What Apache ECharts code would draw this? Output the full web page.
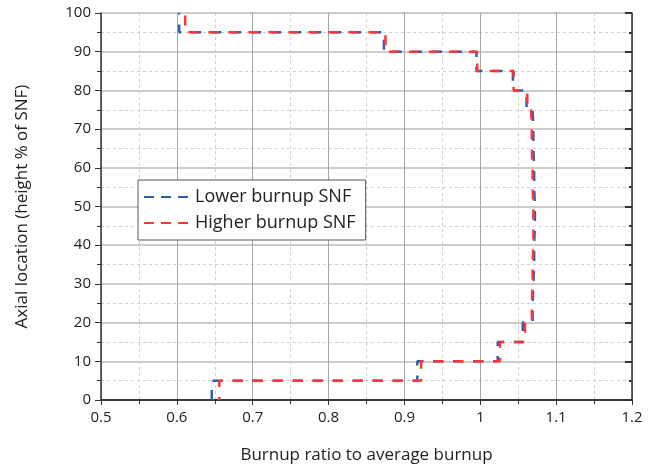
<!DOCTYPE html>
<html>
<head>
<meta charset="utf-8">
<script src="https://cdn.jsdelivr.net/npm/echarts@6/dist/echarts.min.js"></script>
<style>
  html, body { margin: 0; padding: 0; background: #fff; }
  #main { width: 657px; height: 476px; }
</style>
</head>
<body>
<div id="main"></div>
<script>
// axial bins (height % of SNF), each 5 % tall
var binEdges = [0, 5, 10, 15, 20, 25, 30, 35, 40, 45, 50, 55, 60, 65, 70, 75, 80, 85, 90, 95, 100];
// burnup ratio in each bin
var lowerBurnup = [0.646, 0.917, 1.023, 1.056, 1.069, 1.070, 1.071, 1.071, 1.072, 1.072,
                   1.071, 1.071, 1.070, 1.070, 1.069, 1.061, 1.043, 0.995, 0.873, 0.603];
var higherBurnup = [0.656, 0.922, 1.026, 1.059, 1.068, 1.069, 1.069, 1.070, 1.070, 1.070,
                    1.069, 1.069, 1.068, 1.068, 1.067, 1.062, 1.044, 0.996, 0.875, 0.611];
var seriesNames = ['Lower burnup SNF', 'Higher burnup SNF'];
var colors = ['#2b5fb4', '#ff3535'];

var chart = echarts.init(document.getElementById('main'));

function stairs(vals) {                 // vertical segment per bin, joined by horizontal steps
    var pts = [];
    vals.forEach(function (v, i) {
        pts.push([v, binEdges[i]]);
        pts.push([v, binEdges[i + 1]]);
    });
    return pts;
}

var font = 'Open Sans';
var dashIcon = 'path://M0,0H10V2H0Z M17,0H27V2H17Z M34,0H44V2H34Z';   // three dashes for the legend
var minorGrid = { show: true, lineStyle: { color: '#cfcfcf', width: 1, type: [3, 3] } };

var option = {
    animation: false,
    grid: { left: 101, right: 25, top: 13, bottom: 76 },
    legend: {
        orient: 'vertical',
        left: 138, top: 180,
        itemWidth: 44, itemHeight: 2, itemGap: 8,
        padding: [8, 10, 8, 6],
        borderColor: '#555', borderWidth: 1, borderRadius: 0,
        backgroundColor: '#fff',
        textStyle: { fontFamily: font, fontSize: 18, color: '#222', padding: [0, 0, 0, 2] },
        data: seriesNames.map(function (n) { return { name: n, icon: dashIcon }; })
    },
    xAxis: [{
        type: 'value', min: 0.5, max: 1.2, interval: 0.1,
        name: 'Burnup ratio to average burnup', nameLocation: 'middle', nameGap: 47,
        nameTextStyle: { fontFamily: font, fontSize: 17, color: '#222' },
        axisLine: { show: true, onZero: false, lineStyle: { color: '#333', width: 1.5 } },
        axisTick: { show: true, inside: false, length: 5, lineStyle: { color: '#333' } },
        minorTick: { show: true, splitNumber: 2, length: 4, lineStyle: { color: '#333' } },
        axisLabel: { fontFamily: font, fontSize: 15, color: '#222', margin: 10 },
        splitLine: { show: true, lineStyle: { color: '#a6a6a6', width: 1 } },
        minorSplitLine: minorGrid
    }, {
        type: 'value', min: 0.5, max: 1.2, interval: 0.1, position: 'top',
        axisLine: { show: true, lineStyle: { color: '#333', width: 1.5 } },
        axisTick: { show: true, inside: true, length: 5, lineStyle: { color: '#333' } },
        minorTick: { show: true, splitNumber: 2, length: 3, lineStyle: { color: '#333' } },
        axisLabel: { show: false }, splitLine: { show: false }
    }],
    yAxis: [{
        type: 'value', min: 0, max: 100, interval: 10,
        name: 'Axial location (height % of SNF)', nameLocation: 'middle', nameGap: 70,
        nameTextStyle: { fontFamily: font, fontSize: 17, color: '#222' },
        axisLine: { show: true, onZero: false, lineStyle: { color: '#333', width: 1.5 } },
        axisTick: { show: true, inside: false, length: 6, lineStyle: { color: '#333' } },
        minorTick: { show: true, splitNumber: 2, length: 4, lineStyle: { color: '#333' } },
        axisLabel: { fontFamily: font, fontSize: 15, color: '#222', margin: 10 },
        splitLine: { show: true, lineStyle: { color: '#cccccc', width: 2 } },
        minorSplitLine: minorGrid
    }, {
        type: 'value', min: 0, max: 100, interval: 10, position: 'right',
        axisLine: { show: true, lineStyle: { color: '#333', width: 1.5 } },
        axisTick: { show: true, inside: true, length: 7, lineStyle: { color: '#333', width: 2 } },
        minorTick: { show: true, splitNumber: 2, length: 3, lineStyle: { color: '#333', width: 2 } },
        axisLabel: { show: false }, splitLine: { show: false }
    }],
    series: [
        {
            name: seriesNames[0], type: 'line', data: stairs(lowerBurnup),
            showSymbol: false, symbol: 'none',
            itemStyle: { color: colors[0] },
            lineStyle: { color: colors[0], width: 2.5, type: [10, 10] }
        },
        {
            name: seriesNames[1], type: 'line', data: stairs(higherBurnup),
            showSymbol: false, symbol: 'none',
            itemStyle: { color: colors[1] },
            lineStyle: { color: colors[1], width: 2.5, type: [10, 10], dashOffset: 7 }
        }
    ]
};
chart.setOption(option);
</script>
</body>
</html>
